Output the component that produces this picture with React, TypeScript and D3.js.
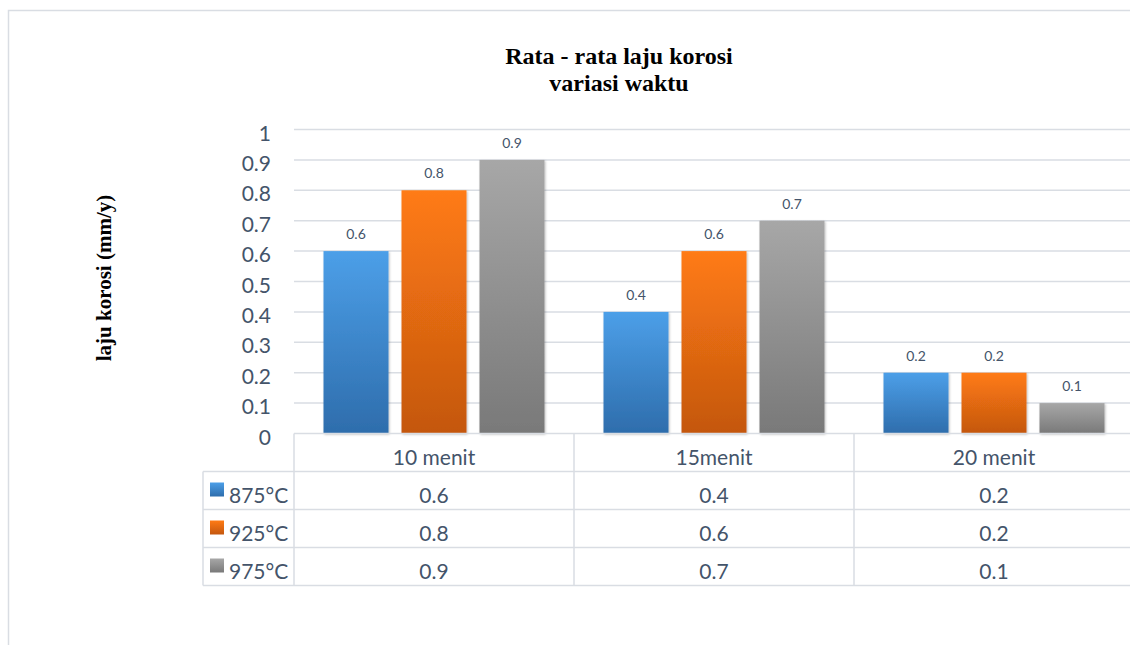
import React, { useEffect, useRef } from 'react';
import * as d3 from 'd3';

const categories = ['10 menit', '15menit', '20 menit'];
const series = ['875°C', '925°C', '975°C'];
const values875 = [0.6, 0.4, 0.2];
const values925 = [0.8, 0.6, 0.2];
const values975 = [0.9, 0.7, 0.1];
const yTicks = [0, 0.1, 0.2, 0.3, 0.4, 0.5, 0.6, 0.7, 0.8, 0.9, 1];

const gradients = [
    ['#4c9fe8', '#2e6dac'],
    ['#ff7b14', '#c4570f'],
    ['#a7a7a7', '#797979'],
];

const App = () => {
    const ref = useRef<SVGSVGElement | null>(null);

    useEffect(() => {
        const w = 1130;
        const h = 645;
        const left = 294;
        const right = 1134;
        const top = 129.5;
        const bottom = 433.5;
        const rowH = 38;
        const tableLeft = 203;
        const textColor = '#44546a';
        const lineColor = '#d9dde3';
        const sans = 'Lato, "Open Sans", sans-serif';
        const serif = '"Liberation Serif", "Times New Roman", serif';

        const data = [values875, values925, values975];

        const svg = d3.select(ref.current);
        svg.selectAll('*').remove();

        const defs = svg.append('defs');
        gradients.forEach((g, i) => {
            const lg = defs.append('linearGradient')
                .attr('id', 'grad' + i)
                .attr('x1', 0).attr('y1', 0).attr('x2', 0).attr('y2', 1);
            lg.append('stop').attr('offset', '0%').attr('stop-color', g[0]);
            lg.append('stop').attr('offset', '100%').attr('stop-color', g[1]);
        });
        const f = defs.append('filter').attr('id', 'shadow')
            .attr('x', '-10%').attr('y', '-10%').attr('width', '130%').attr('height', '130%');
        f.append('feDropShadow')
            .attr('dx', 1).attr('dy', 1).attr('stdDeviation', 1.2)
            .attr('flood-color', '#000').attr('flood-opacity', 0.25);

        svg.append('rect')
            .attr('x', 8.5).attr('y', 10.5)
            .attr('width', w).attr('height', h)
            .attr('fill', '#fff')
            .attr('stroke', lineColor)
            .attr('stroke-width', 1.5);

        const x0 = d3.scaleBand<string>()
            .domain(categories)
            .range([left, right])
            .paddingInner(0)
            .paddingOuter(0);

        const inner = 221;
        const x1 = d3.scaleBand<string>()
            .domain(series)
            .range([(x0.bandwidth() - inner) / 2, (x0.bandwidth() + inner) / 2])
            .paddingInner(1 / 6)
            .paddingOuter(0);

        const y = d3.scaleLinear().domain([0, 1]).range([bottom, top]);

        // gridlines
        svg.append('g')
            .selectAll('line')
            .data(yTicks.slice(1))
            .join('line')
            .attr('x1', left).attr('x2', w)
            .attr('y1', d => y(d)).attr('y2', d => y(d))
            .attr('stroke', lineColor)
            .attr('stroke-width', 1.5);

        // y tick labels
        svg.append('g')
            .selectAll('text')
            .data(yTicks)
            .join('text')
            .attr('x', 271)
            .attr('y', d => y(d) + 11)
            .attr('text-anchor', 'end')
            .attr('font-family', sans)
            .attr('font-size', 21)
            .attr('fill', textColor)
            .text(d => String(d));

        // bars
        const groups = svg.append('g')
            .selectAll('g')
            .data(categories)
            .join('g')
            .attr('transform', d => `translate(${x0(d)},0)`);

        groups.selectAll('rect')
            .data((c, ci) => series.map((s, si) => ({ s, si, v: data[si][ci] })))
            .join('rect')
            .attr('x', d => x1(d.s)!)
            .attr('y', d => y(d.v))
            .attr('width', x1.bandwidth())
            .attr('height', d => y(0) - y(d.v))
            .attr('fill', d => `url(#grad${d.si})`)
            .attr('filter', 'url(#shadow)');

        groups.selectAll('text')
            .data((c, ci) => series.map((s, si) => ({ s, si, v: data[si][ci] })))
            .join('text')
            .attr('x', d => x1(d.s)! + x1.bandwidth() / 2)
            .attr('y', d => y(d.v) - 12)
            .attr('text-anchor', 'middle')
            .attr('font-family', sans)
            .attr('font-size', 14)
            .attr('fill', textColor)
            .text(d => String(d.v));

        // data table
        const table = svg.append('g');
        const tableBottom = bottom + rowH * 4;

        table.append('line')
            .attr('x1', left).attr('x2', w)
            .attr('y1', bottom).attr('y2', bottom)
            .attr('stroke', lineColor).attr('stroke-width', 1.5);

        table.selectAll('line.h')
            .data(d3.range(1, 5))
            .join('line')
            .attr('class', 'h')
            .attr('x1', tableLeft).attr('x2', w)
            .attr('y1', i => bottom + rowH * i).attr('y2', i => bottom + rowH * i)
            .attr('stroke', lineColor).attr('stroke-width', 1.5);

        table.selectAll('line.v')
            .data(categories)
            .join('line')
            .attr('class', 'v')
            .attr('x1', d => x0(d)!).attr('x2', d => x0(d)!)
            .attr('y1', bottom).attr('y2', tableBottom)
            .attr('stroke', lineColor).attr('stroke-width', 1.5);

        table.append('line')
            .attr('x1', tableLeft).attr('x2', tableLeft)
            .attr('y1', bottom + rowH).attr('y2', tableBottom)
            .attr('stroke', lineColor).attr('stroke-width', 1.5);

        table.selectAll('text.cat')
            .data(categories)
            .join('text')
            .attr('class', 'cat')
            .attr('x', d => x0(d)! + x0.bandwidth() / 2)
            .attr('y', bottom + 31)
            .attr('text-anchor', 'middle')
            .attr('font-family', sans)
            .attr('font-size', 21)
            .attr('fill', textColor)
            .text(d => d);

        series.forEach((s, si) => {
            const rowTop = bottom + rowH * (si + 1);
            table.append('rect')
                .attr('x', 210).attr('y', rowTop + 11)
                .attr('width', 14).attr('height', 14)
                .attr('fill', `url(#grad${si})`);
            table.append('text')
                .attr('x', 229)
                .attr('y', rowTop + 31)
                .attr('font-family', sans)
                .attr('font-size', 21)
                .attr('fill', textColor)
                .text(s);
            table.selectAll(null)
                .data(categories)
                .enter()
                .append('text')
                .attr('x', d => x0(d)! + x0.bandwidth() / 2)
                .attr('y', rowTop + 31)
                .attr('text-anchor', 'middle')
                .attr('font-family', sans)
                .attr('font-size', 21)
                .attr('fill', textColor)
                .text((d, ci) => String(data[si][ci]));
        });

        // title
        const title = svg.append('text')
            .attr('text-anchor', 'middle')
            .attr('font-family', serif)
            .attr('font-weight', 'bold')
            .attr('font-size', 24)
            .attr('fill', '#000');
        title.append('tspan').attr('x', 619).attr('y', 64).text('Rata - rata laju korosi');
        title.append('tspan').attr('x', 619).attr('y', 91).text('variasi waktu');

        // y axis label
        svg.append('text')
            .attr('transform', 'translate(111,278) rotate(-90)')
            .attr('text-anchor', 'middle')
            .attr('font-family', serif)
            .attr('font-weight', 'bold')
            .attr('font-size', 21)
            .attr('fill', '#000')
            .text('laju korosi (mm/y)');
    }, []);

    return (
        <svg
            ref={ref}
            width={1130}
            height={645}
            style={{ position: 'absolute', left: 0, top: 0, display: 'block' }}
        />
    );
};

export default App;
